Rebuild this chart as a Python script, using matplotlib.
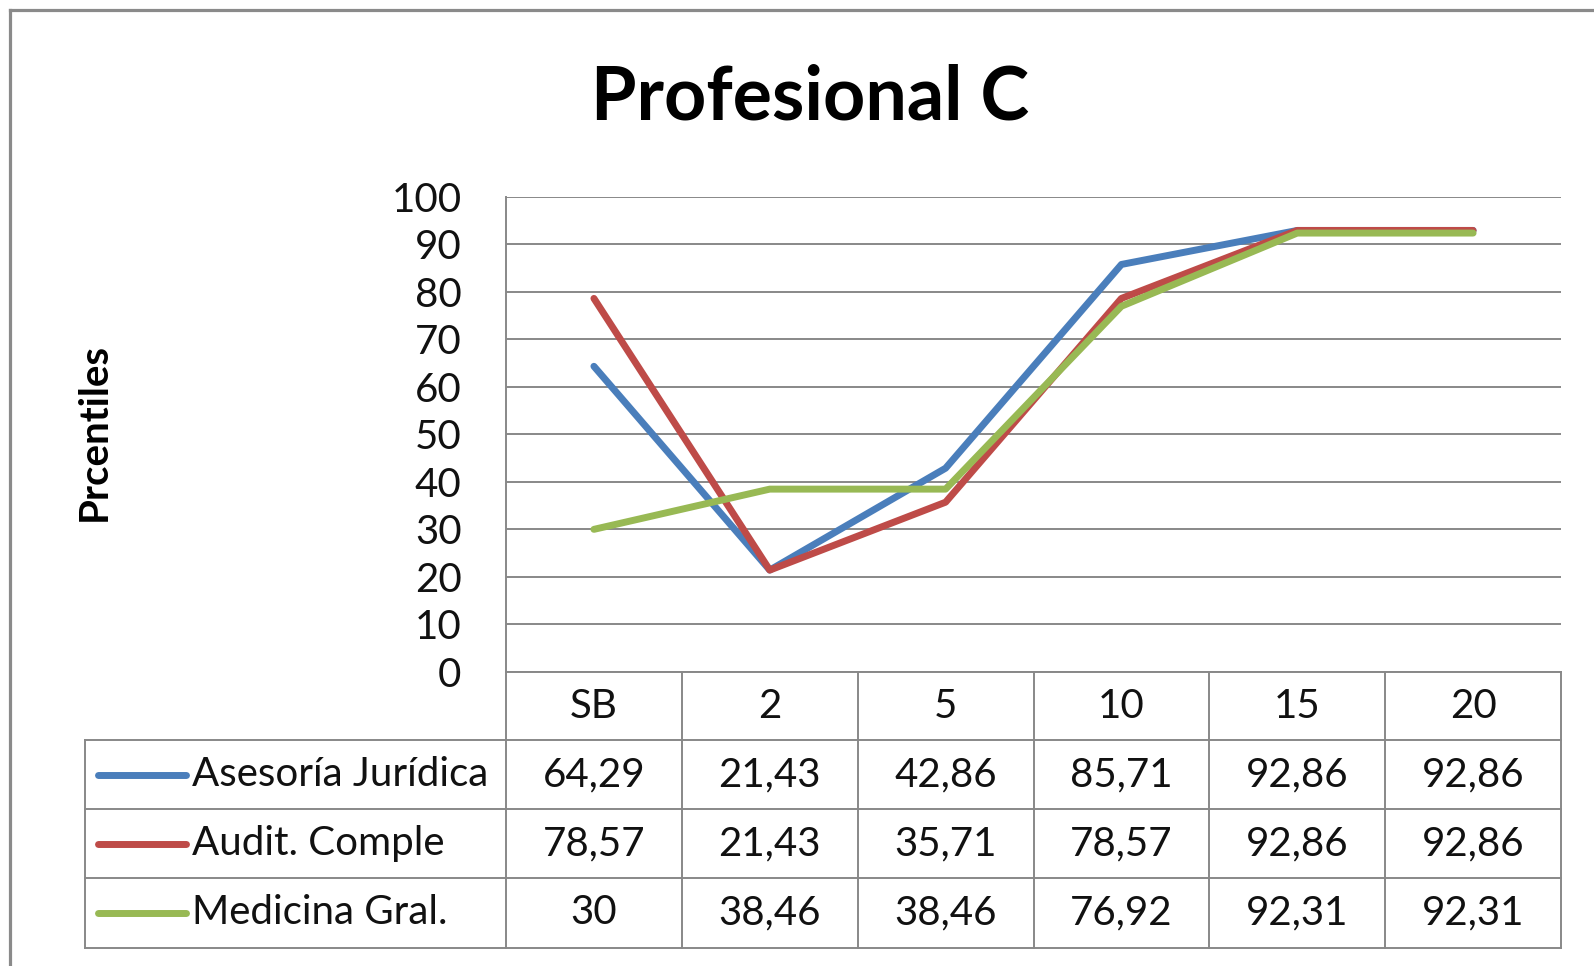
import matplotlib
matplotlib.use('Agg')
import matplotlib.pyplot as plt
from matplotlib.lines import Line2D
from matplotlib import transforms

# ---- data ----
categories = ['SB', '2', '5', '10', '15', '20']
series_names = ['Asesoría Jurídica', 'Audit. Comple', 'Medicina Gral.']
asesoria = [64.29, 21.43, 42.86, 85.71, 92.86, 92.86]
auditoria = [78.57, 21.43, 35.71, 78.57, 92.86, 92.86]
medicina = [30, 38.46, 38.46, 76.92, 92.31, 92.31]
y_ticks = list(range(0, 101, 10))
title = 'Profesional C'
y_label = 'Prcentiles'

series = [asesoria, auditoria, medicina]
colors = ['#4A7EBB', '#BE4B48', '#98B954']

W, H = 1594, 966
plt.rcParams['font.family'] = ['Lato', 'DejaVu Sans']
fig = plt.figure(figsize=(W / 100, H / 100), dpi=100)


def fx(px):
    return px / W


def fy(py):
    return 1 - py / H


GRID = '#888888'
TXT = '#111111'
FS = 29
LW = 5.0
L, R, T, B = 506, 1561, 196.5, 672
ax = fig.add_axes([fx(L), fy(B), fx(R) - fx(L), fy(T) - fy(B)])
ax.set_xlim(-0.5, len(categories) - 0.5)
ax.set_ylim(0, 100)
ax.set_yticks(y_ticks)
ax.set_xticks([])
ax.yaxis.grid(True, color=GRID, lw=1.4)
ax.set_axisbelow(True)
for s in ['top', 'right', 'bottom', 'left']:
    ax.spines[s].set_visible(False)
ax.tick_params(axis='y', length=0, labelsize=FS, pad=32, labelcolor=TXT)

xs = list(range(len(categories)))
for vals, c in zip(series, colors):
    ax.plot(xs, vals, color=c, lw=LW, solid_capstyle='round', solid_joinstyle='round', zorder=3)

# ---- table ----
row_edges = [672, 740, 809, 878, 948]
tleft = 85
blend = transforms.blended_transform_factory(ax.transData, fig.transFigure)


def fline(x0, y0, x1, y1, **kw):
    fig.add_artist(Line2D([fx(x0), fx(x1)], [fy(y0), fy(y1)], transform=fig.transFigure, **kw))


tkw = dict(color=GRID, lw=1.4)
# left spine of plot extending through the table
fline(L, T, L, row_edges[-1], **tkw)
fline(L, row_edges[0], R, row_edges[0], **tkw)
for y in row_edges[1:]:
    fline(tleft, y, R, y, **tkw)
fline(tleft, row_edges[1], tleft, row_edges[-1], **tkw)
for i in range(1, len(categories) + 1):
    xb = i - 0.5
    fig.add_artist(Line2D([xb, xb], [fy(row_edges[0]), fy(row_edges[-1])], transform=blend, **tkw))

# category row
cy = (row_edges[0] + row_edges[1]) / 2
for i, cat in enumerate(categories):
    fig.text(i, fy(cy), cat, transform=blend, ha='center', va='center', fontsize=FS, color=TXT)


def fmt(v):
    if float(v).is_integer():
        return str(int(v))
    return f'{v:.2f}'.replace('.', ',')


for r, (name, vals, c) in enumerate(zip(series_names, series, colors)):
    yc = (row_edges[r + 1] + row_edges[r + 2]) / 2
    fline(98, yc, 186, yc, color=c, lw=LW, solid_capstyle='round')
    fig.text(fx(192), fy(yc), name, ha='left', va='center', fontsize=FS, color=TXT)
    for i, v in enumerate(vals):
        fig.text(i, fy(yc), fmt(v), transform=blend, ha='center', va='center', fontsize=FS, color=TXT)

# title and axis label
fig.text(fx(810), fy(120), title, ha='center', va='baseline', fontsize=53, fontweight='bold', color='#000000')
fig.text(fx(94), fy(432), y_label, ha='center', va='center', rotation=90, fontsize=29,
         fontweight='bold', color='#000000')

# outer frame (top and left edges visible)
fline(10, 10, 10, H, color='#8a8a8a', lw=2.3)
fline(10, 10, W, 10, color='#8a8a8a', lw=2.3)

fig.savefig('out.png', dpi=100, facecolor='white')
